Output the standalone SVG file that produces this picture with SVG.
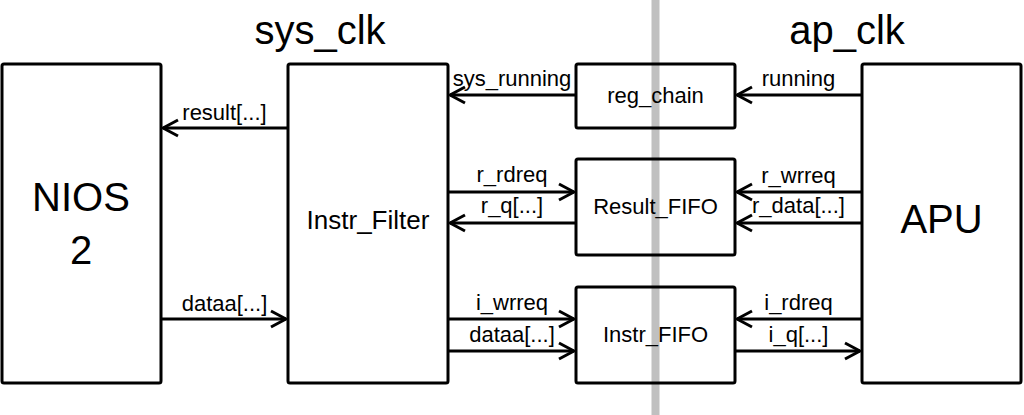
<svg xmlns="http://www.w3.org/2000/svg" width="1024" height="415" viewBox="0 0 1024 415">
<style>
.box{fill:none;stroke:#000;stroke-width:3}
.lbl{font-family:"Liberation Sans",Arial,sans-serif;font-size:22px;fill:#000;text-anchor:middle}
.big{font-family:"Liberation Sans",Arial,sans-serif;font-size:40px;fill:#000;text-anchor:middle}
.mid{font-family:"Liberation Sans",Arial,sans-serif;font-size:26px;fill:#000;text-anchor:middle}
.edge{fill:none;stroke:#000;stroke-width:3;marker-end:url(#arr)}
</style>
<defs>
<marker id="arr" markerUnits="userSpaceOnUse" markerWidth="24" markerHeight="24" viewBox="-20 -12 24 24" refX="0" refY="0" orient="auto" overflow="visible">
<path d="M-15,-8 L0,0 L-15,8" fill="none" stroke="#000" stroke-width="3" stroke-linejoin="round"/>
</marker>
</defs>
<rect x="0" y="0" width="1024" height="415" fill="#fff"/>
<rect id="clock-divider" x="651.5" y="0" width="8" height="415" fill="#c0c0c0"/>
<text class="big" x="320" y="44">sys_clk</text>
<text class="big" x="847" y="44">ap_clk</text>
<g id="nios2">
<rect class="box" x="2" y="64" width="159" height="319" rx="2"/>
<text class="big" x="81" y="211">NIOS</text>
<text class="big" x="81" y="264">2</text>
</g>
<g id="instr_filter">
<rect class="box" x="288" y="64" width="160" height="319" rx="2"/>
<text class="mid" x="368" y="229">Instr_Filter</text>
</g>
<g id="reg_chain">
<rect class="box" x="576" y="64" width="159" height="64" rx="2"/>
<text class="lbl" x="655.5" y="103">reg_chain</text>
</g>
<g id="result_fifo">
<rect class="box" x="576" y="159" width="159" height="96" rx="2"/>
<text class="lbl" x="655.5" y="214">Result_FIFO</text>
</g>
<g id="instr_fifo">
<rect class="box" x="576" y="287" width="159" height="96" rx="2"/>
<text class="lbl" x="655.5" y="342">Instr_FIFO</text>
</g>
<g id="apu">
<rect class="box" x="862" y="64" width="159" height="319" rx="2"/>
<text class="big" x="941.5" y="233">APU</text>
</g>
<g id="connectors">
<path class="edge" d="M288,128 H163"/>
<text class="lbl" x="224.5" y="120">result[...]</text>
<path class="edge" d="M161,319 H286"/>
<text class="lbl" x="224.5" y="311">dataa[...]</text>
<path class="edge" d="M576,95 H450"/>
<text class="lbl" x="512" y="86">sys_running</text>
<path class="edge" d="M862,95 H737"/>
<text class="lbl" x="798.5" y="86">running</text>
<path class="edge" d="M448,192 H574"/>
<text class="lbl" x="512" y="182">r_rdreq</text>
<path class="edge" d="M576,223 H450"/>
<text class="lbl" x="512" y="213">r_q[...]</text>
<path class="edge" d="M862,192 H737"/>
<text class="lbl" x="798.5" y="183">r_wrreq</text>
<path class="edge" d="M862,223 H737"/>
<text class="lbl" x="798.5" y="213">r_data[...]</text>
<path class="edge" d="M448,319 H574"/>
<text class="lbl" x="512" y="310">i_wrreq</text>
<path class="edge" d="M448,351 H574"/>
<text class="lbl" x="512" y="342">dataa[...]</text>
<path class="edge" d="M862,319 H737"/>
<text class="lbl" x="798.5" y="310">i_rdreq</text>
<path class="edge" d="M735,351 H860"/>
<text class="lbl" x="798.5" y="342">i_q[...]</text>
</g>
</svg>
